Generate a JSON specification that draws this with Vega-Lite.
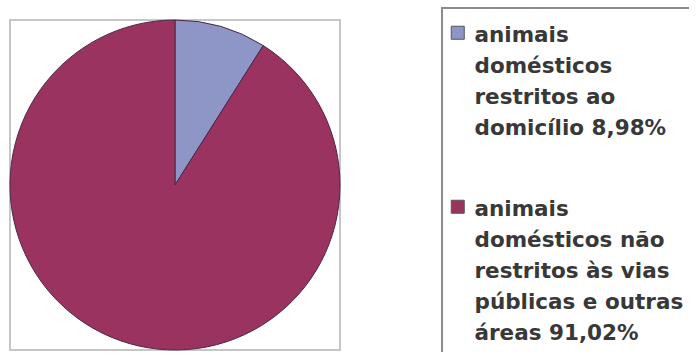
{
  "$schema": "https://vega.github.io/schema/vega-lite/v6.json",
  "width": 330,
  "height": 330,
  "autosize": {"type": "none"},
  "padding": {"left": 10, "top": 20, "right": 349, "bottom": 2},
  "background": "white",
  "view": {"stroke": "#c6c6c6", "strokeWidth": 2},
  "data": {
    "values": [
      {"categoria": "animais\ndomésticos\nrestritos ao\ndomicílio 8,98%", "percentual": 8.98},
      {"categoria": "animais\ndomésticos não\nrestritos às vias\npúblicas e outras\náreas 91,02%", "percentual": 91.02}
    ]
  },
  "mark": {"type": "arc", "stroke": "#4b2846", "strokeWidth": 1},
  "encoding": {
    "theta": {"field": "percentual", "type": "quantitative", "stack": true},
    "order": {"field": "percentual", "type": "quantitative", "sort": "ascending"},
    "color": {
      "field": "categoria",
      "type": "nominal",
      "scale": {
        "domain": [
          "animais\ndomésticos\nrestritos ao\ndomicílio 8,98%",
          "animais\ndomésticos não\nrestritos às vias\npúblicas e outras\náreas 91,02%"
        ],
        "range": ["#8e96c8", "#9b3361"]
      },
      "legend": {
        "orient": "none",
        "legendX": 432,
        "legendY": -12,
        "title": " ",
        "titleFontSize": 1,
        "titlePadding": 4,
        "padding": 9,
        "strokeColor": "#8c8c8c",
        "symbolType": "square",
        "symbolSize": 169,
        "symbolOffset": -4,
        "symbolStrokeColor": "#555555",
        "symbolStrokeWidth": 1,
        "labelFont": "DejaVu Sans",
        "labelFontWeight": "bold",
        "labelFontSize": 21.5,
        "labelColor": "#383838",
        "labelExpr": "split(datum.label, '\\n')",
        "labelOffset": 6,
        "labelLimit": 400,
        "rowPadding": 56,
        "labelBaseline": "alphabetic"
      }
    }
  },
  "config": {
    "legend": {"strokeWidth": 2},
    "style": {"guide-label": {"lineHeight": 31, "dy": 9}}
  }
}
